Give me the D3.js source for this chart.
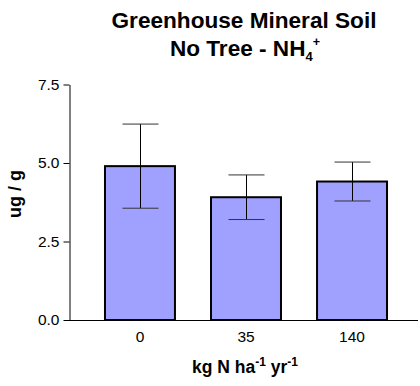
<!DOCTYPE html>
<html><head><meta charset="utf-8">
<script src="https://cdn.jsdelivr.net/npm/d3@7"></script>
<style>body{margin:0;background:#fff}svg{display:block;font-family:"Liberation Sans",Arial,sans-serif}</style>
</head><body><svg id="c" width="420" height="386"></svg>
<script>
const categories = ["0", "35", "140"];
const means = [4.90, 3.91, 4.41];
const errors = [1.34, 0.71, 0.62];
const yTicks = [0, 2.5, 5.0, 7.5];

const svg = d3.select("#c");
const x = d3.scaleBand().domain(categories).range([70, 422]).paddingInner(0.34).paddingOuter(0.33);
const y = d3.scaleLinear().domain([0, 7.5]).range([320, 84.5]);

// title
svg.append("text").attr("x",244).attr("y",28).attr("text-anchor","middle").attr("font-weight","bold").attr("font-size",22.6).text("Greenhouse Mineral Soil");
const t2 = svg.append("text").attr("x",245).attr("y",56).attr("text-anchor","middle").attr("font-weight","bold").attr("font-size",22.6);
t2.append("tspan").text("No Tree - NH");
t2.append("tspan").attr("font-size",13).attr("dy",5).text("4");
t2.append("tspan").attr("font-size",12.5).attr("dy",-15).text("+");

// bars
const g = svg.append("g");
g.selectAll("rect.bar").data(categories).join("rect")
  .attr("x", d => x(d)).attr("width", x.bandwidth())
  .attr("y", (d,i) => y(means[i])).attr("height", (d,i) => y(0) - y(means[i]))
  .attr("fill", "#a0a0ff").attr("stroke", "#000").attr("stroke-width", 2);

// error bars
const capW = 36;
categories.forEach((d,i) => {
  const cx = Math.round(x(d) + x.bandwidth()/2) + 0.5;
  g.append("line").attr("x1",cx).attr("x2",cx).attr("y1",y(means[i]+errors[i])).attr("y2",y(means[i]-errors[i])).attr("stroke","#000").attr("stroke-width",1);
  [means[i]+errors[i], means[i]-errors[i]].forEach(v => {
    g.append("line").attr("x1",cx-capW/2).attr("x2",cx+capW/2).attr("y1",y(v)).attr("y2",y(v)).attr("stroke","#333").attr("stroke-width",1);
  });
});

// y axis
const ya = svg.append("g").attr("transform","translate(69.5,0)")
  .call(d3.axisLeft(y).tickValues(yTicks).tickFormat(d3.format(".1f")).tickSize(6).tickSizeOuter(0));
ya.select(".domain").attr("stroke","#000");
ya.selectAll("text").attr("font-size",15.5).attr("fill","#000").attr("font-family","Liberation Sans, Arial, sans-serif").attr("dx",-1);

// x axis line
svg.append("line").attr("x1",69).attr("x2",418).attr("y1",320.5).attr("y2",320.5).attr("stroke","#000").attr("stroke-width",1);
svg.append("g").selectAll("text").data(categories).join("text")
  .attr("x", d => x(d) + x.bandwidth()/2).attr("y", 342).attr("text-anchor","middle")
  .attr("font-size",15.5).text(d => d);

// x label
const xl = svg.append("text").attr("x",245).attr("y",373).attr("text-anchor","middle").attr("font-weight","bold").attr("font-size",17.5);
xl.append("tspan").text("kg N ha");
xl.append("tspan").attr("font-size",12).attr("dy",-7).text("-1");
xl.append("tspan").attr("dy",7).text(" yr");
xl.append("tspan").attr("font-size",12).attr("dy",-7).text("-1");

// y label
svg.append("text").attr("transform","translate(21,194) rotate(-90)").attr("text-anchor","middle")
  .attr("font-weight","bold").attr("font-size",18).text("ug / g");
</script></body></html>
